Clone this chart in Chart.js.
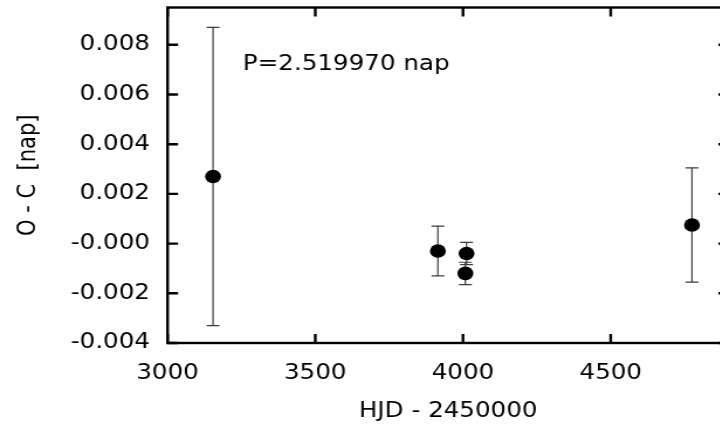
<!DOCTYPE html>
<html>
<head>
<meta charset="utf-8">
<script src="https://cdn.jsdelivr.net/npm/chart.js@4/dist/chart.umd.min.js"></script>
<style>
  html, body { margin: 0; padding: 0; background: #fff; overflow: hidden; }
  #wrap { width: 630px; height: 425px; transform: scaleX(1.17); transform-origin: 0 0; }
</style>
</head>
<body>
<div id="wrap"><canvas id="ocChart" width="630" height="425"></canvas></div>
<script>
// timings (HJD - 2450000), O-C residuals and their errors, in days
const epochs = [3154, 3915, 4012, 4008, 4775];
const oc = [0.0027, -0.0003, -0.0004, -0.0012, 0.00075];
const ocErr = [0.006, 0.001, 0.00045, 0.00045, 0.0023];

const xTicks = [3000, 3500, 4000, 4500];
const yTicks = [-0.004, -0.002, 0, 0.002, 0.004, 0.006, 0.008];
const yTickLabels = ['-0.004', '-0.002', '-0.000', '0.002', '0.004', '0.006', '0.008'];

const periodLabel = 'P=2.519970 nap';
const labelAt = { x: 3255, y: 0.00699 };

const font = '"DejaVu Sans", sans-serif';
const fontSize = 21;

// gnuplot-like frame, inward ticks on all four sides, error bars and the period label
const ocFrame = {
    id: 'ocFrame',
    beforeDatasetsDraw(chart) {
        const { ctx, scales: { x, y } } = chart;
        ctx.save();
        ctx.strokeStyle = '#3c3c3c';
        ctx.lineWidth = 1.2;
        epochs.forEach((t, i) => {
            const px = x.getPixelForValue(t);
            const top = y.getPixelForValue(oc[i] + ocErr[i]);
            const bot = y.getPixelForValue(oc[i] - ocErr[i]);
            ctx.beginPath();
            ctx.moveTo(px, top); ctx.lineTo(px, bot);
            ctx.moveTo(px - 5.5, top); ctx.lineTo(px + 5.5, top);
            ctx.moveTo(px - 5.5, bot); ctx.lineTo(px + 5.5, bot);
            ctx.stroke();
        });
        ctx.restore();
    },
    afterDraw(chart) {
        const { ctx, chartArea: a, scales: { x, y } } = chart;
        const tl = 9;
        ctx.save();
        ctx.strokeStyle = '#000';
        ctx.lineWidth = 2.4;
        ctx.strokeRect(a.left, a.top, a.right - a.left, a.bottom - a.top);

        ctx.beginPath();
        xTicks.forEach(v => {
            const px = x.getPixelForValue(v);
            ctx.moveTo(px, a.bottom); ctx.lineTo(px, a.bottom - tl);
            ctx.moveTo(px, a.top); ctx.lineTo(px, a.top + tl);
        });
        yTicks.forEach(v => {
            const py = y.getPixelForValue(v);
            ctx.moveTo(a.left, py); ctx.lineTo(a.left + tl, py);
            ctx.moveTo(a.right, py); ctx.lineTo(a.right - tl, py);
        });
        ctx.stroke();

        ctx.fillStyle = '#000';
        ctx.font = fontSize + 'px ' + font;
        ctx.textBaseline = 'alphabetic';
        ctx.fillText(periodLabel, x.getPixelForValue(labelAt.x), y.getPixelForValue(labelAt.y));
        ctx.restore();
    }
};

new Chart(document.getElementById('ocChart'), {
    type: 'scatter',
    data: {
        datasets: [{
            data: epochs.map((t, i) => ({ x: t, y: oc[i] })),
            pointRadius: 6.8,
            pointHoverRadius: 6.8,
            pointBackgroundColor: '#000',
            pointBorderWidth: 0
        }]
    },
    options: {
        responsive: false,
        animation: false,
        events: [],
        layout: { padding: { top: 7.5, right: 7, left: 0, bottom: 0 } },
        plugins: { legend: { display: false }, tooltip: { enabled: false } },
        scales: {
            x: {
                type: 'linear',
                min: 3000,
                max: 4900,
                grid: { display: false, drawTicks: false },
                border: { display: false },
                afterBuildTicks: s => { s.ticks = xTicks.map(v => ({ value: v })); },
                afterFit: s => { s.height = 82; s.paddingLeft = 0; s.paddingRight = 0; },
                ticks: {
                    padding: 18,
                    maxRotation: 0,
                    color: '#000',
                    font: { family: font, size: fontSize },
                    callback: v => String(v)
                },
                title: {
                    display: true,
                    text: 'HJD - 2450000',
                    color: '#000',
                    font: { family: font, size: fontSize },
                    padding: { top: 0, bottom: 1 }
                }
            },
            y: {
                min: -0.004,
                max: 0.0095,
                grid: { display: false, drawTicks: false },
                border: { display: false },
                afterBuildTicks: s => { s.ticks = yTicks.map(v => ({ value: v })); },
                afterFit: s => { s.width = 143.2; s.paddingTop = 0; s.paddingBottom = 0; },
                ticks: {
                    padding: 15,
                    color: '#000',
                    font: { family: font, size: fontSize },
                    callback: v => yTickLabels[yTicks.findIndex(t => Math.abs(t - v) < 1e-9)]
                },
                title: {
                    display: true,
                    text: 'O - C  [nap]',
                    color: '#000',
                    font: { family: font, size: fontSize },
                    padding: { top: 12, bottom: 0 }
                }
            }
        }
    },
    plugins: [ocFrame]
});
</script>
</body>
</html>
